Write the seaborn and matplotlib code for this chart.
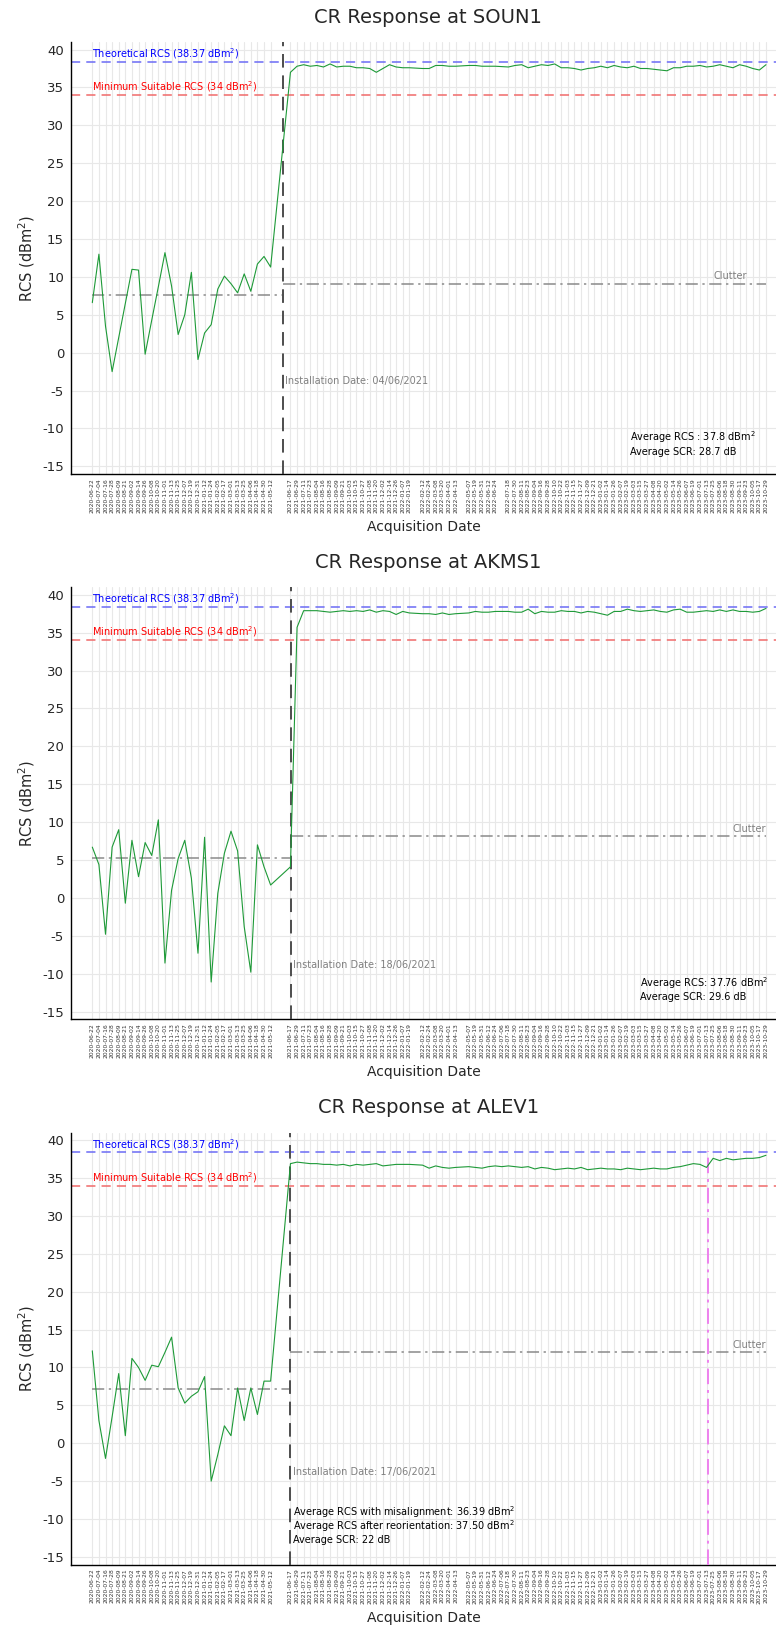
import matplotlib
matplotlib.use("Agg")
import matplotlib.pyplot as plt
import matplotlib.dates as mdates
import numpy as np
import pandas as pd
import seaborn as sns

# ---------------------------------------------------------------- data
pre_dates = [
    "2020-06-22", "2020-07-04", "2020-07-16", "2020-07-28", "2020-08-09", "2020-08-21",
    "2020-09-02", "2020-09-14", "2020-09-26", "2020-10-08", "2020-10-20", "2020-11-01",
    "2020-11-13", "2020-11-25", "2020-12-07", "2020-12-19", "2020-12-31", "2021-01-12",
    "2021-01-24", "2021-02-05", "2021-02-17", "2021-03-01", "2021-03-13", "2021-03-25",
    "2021-04-06", "2021-04-18", "2021-04-30", "2021-05-12",
]
post_dates_2021 = [
    "2021-06-17", "2021-06-29", "2021-07-11", "2021-07-23", "2021-08-04", "2021-08-16",
    "2021-08-28", "2021-09-09", "2021-09-21", "2021-10-03", "2021-10-15", "2021-10-27",
    "2021-11-08", "2021-11-20", "2021-12-02", "2021-12-14", "2021-12-26",
]
post_dates_2022 = [
    "2022-01-07", "2022-01-19", "2022-02-12", "2022-02-24", "2022-03-08", "2022-03-20",
    "2022-04-01", "2022-04-13", "2022-05-07", "2022-05-19", "2022-05-31", "2022-06-12",
    "2022-06-24", "2022-07-06", "2022-07-18", "2022-07-30", "2022-08-11", "2022-08-23",
    "2022-09-04", "2022-09-16", "2022-09-28", "2022-10-10", "2022-10-22", "2022-11-03",
    "2022-11-15", "2022-11-27", "2022-12-09", "2022-12-21",
]
post_dates_2023 = [
    "2023-01-02", "2023-01-14", "2023-01-26", "2023-02-07", "2023-02-19", "2023-03-03",
    "2023-03-15", "2023-03-27", "2023-04-08", "2023-04-20", "2023-05-02", "2023-05-14",
    "2023-05-26", "2023-06-07", "2023-06-19", "2023-07-01", "2023-07-13", "2023-07-25",
    "2023-08-06", "2023-08-18", "2023-08-30", "2023-09-11", "2023-09-23", "2023-10-05",
    "2023-10-17", "2023-10-29",
]
all_dates = pre_dates + post_dates_2021 + post_dates_2022 + post_dates_2023
soun1_missing = ["2022-07-06"]
soun1_dates = [d for d in all_dates if d not in soun1_missing]

soun1_rcs = [
    6.6, 13.0, 3.5, -2.5, 2.0, 6.5, 11.0, 10.9, -0.2, 4.3, 8.7, 13.2, 8.8, 2.4,
    5.0, 10.6, -0.9, 2.6, 3.7, 8.4, 10.1, 9.1, 7.9, 10.4, 8.1, 11.7, 12.7, 11.3,
    37.0, 37.8, 38.0, 37.8, 37.9, 37.7, 38.1, 37.7, 37.8, 37.8, 37.6, 37.6, 37.5, 37.0,
    37.5, 38.0, 37.7, 37.6, 37.6, 37.5, 37.5, 37.9, 37.9, 37.8, 37.8, 37.9, 37.9, 37.8,
    37.8, 37.8, 37.7, 37.9, 38.0, 37.6, 37.8, 38.0, 37.9, 38.1, 37.6, 37.6, 37.5, 37.3,
    37.5, 37.6, 37.8, 37.6, 37.9, 37.7, 37.6, 37.8, 37.5, 37.5, 37.4, 37.3, 37.2, 37.6,
    37.6, 37.8, 37.8, 37.9, 37.7, 37.8, 38.0, 37.8, 37.6, 38.0, 37.8, 37.5, 37.3, 38.0,
]
akms1_rcs = [
    6.7, 4.4, -4.8, 6.7, 9.0, -0.7, 7.6, 2.8, 7.3, 5.6, 10.3, -8.6, 1.0, 5.2,
    7.6, 2.6, -7.3, 8.0, -11.1, 0.6, 5.9, 8.8, 6.2, -3.8, -9.8, 7.0, 4.1, 1.7,
    4.1, 35.7, 37.9, 37.9, 37.9, 37.8, 37.7, 37.8, 37.9, 37.8, 37.9, 37.8, 38.0, 37.7,
    37.9, 37.8, 37.4, 37.8, 37.6, 37.5, 37.5, 37.4, 37.6, 37.4, 37.5, 37.6, 37.8, 37.7,
    37.7, 37.8, 37.8, 37.8, 37.7, 37.7, 38.1, 37.5, 37.8, 37.7, 37.7, 37.9, 37.8, 37.8,
    37.6, 37.8, 37.7, 37.5, 37.3, 37.8, 37.8, 38.1, 37.9, 37.8, 37.9, 38.0, 37.8, 37.7,
    38.0, 38.1, 37.7, 37.7, 37.8, 37.9, 37.8, 38.0, 37.8, 38.0, 37.8, 37.8, 37.7, 37.8,
    38.2,
]
alev1_rcs = [
    12.2, 3.0, -2.0, 3.5, 9.2, 1.0, 11.2, 10.0, 8.3, 10.3, 10.1, 12.0, 14.0, 7.3,
    5.3, 6.2, 6.8, 8.8, -5.0, -1.5, 2.3, 1.0, 7.3, 3.0, 7.3, 3.8, 8.2, 8.2,
    36.9, 37.1, 37.0, 36.9, 36.9, 36.8, 36.8, 36.7, 36.8, 36.6, 36.8, 36.7, 36.8, 36.9,
    36.6, 36.7, 36.8, 36.8, 36.8, 36.7, 36.3, 36.6, 36.4, 36.3, 36.4, 36.5, 36.4, 36.3,
    36.5, 36.6, 36.5, 36.6, 36.5, 36.4, 36.5, 36.2, 36.4, 36.3, 36.1, 36.2, 36.3, 36.2,
    36.4, 36.1, 36.2, 36.3, 36.2, 36.2, 36.1, 36.3, 36.2, 36.1, 36.2, 36.3, 36.2, 36.2,
    36.4, 36.5, 36.7, 36.9, 36.8, 36.4, 37.6, 37.3, 37.6, 37.4, 37.5, 37.6, 37.6, 37.7,
    38.0,
]

stations = ["SOUN1", "AKMS1", "ALEV1"]
station_dates = [soun1_dates, all_dates, all_dates]
station_rcs = [soun1_rcs, akms1_rcs, alev1_rcs]
install_dates = ["2021-06-04", "2021-06-18", "2021-06-17"]
install_labels = ["04/06/2021", "18/06/2021", "17/06/2021"]
clutter_pre = [7.6, 5.2, 7.2]
clutter_post = [9.1, 8.16, 12.0]
reorientation_date = "2023-07-15"

theoretical_rcs = 38.37
minimum_rcs = 34.0

summary_texts = [
    ["Average RCS : 37.8 dBm$^{2}$", "Average SCR: 28.7 dB"],
    ["Average RCS: 37.76 dBm$^{2}$", "Average SCR: 29.6 dB"],
    ["Average RCS with misalignment: 36.39 dBm$^{2}$",
     "Average RCS after reorientation: 37.50 dBm$^{2}$",
     "Average SCR: 22 dB"],
]

# ---------------------------------------------------------------- style
sns.set_theme(style="white")
plt.rcParams["font.family"] = ["DejaVu Sans"]
plt.rcParams["axes.unicode_minus"] = False

GREEN = "#1e9a38"
GRID = "#e8e8e8"

fig = plt.figure(figsize=(7.76, 16.27), dpi=100)
ax_bottoms = [0.7087, 0.3736, 0.0384]
ax_left, ax_width, ax_height = 0.0915, 0.9085, 0.2655

x_first = pd.Timestamp(all_dates[0])
x_last = pd.Timestamp(all_dates[-1])
xlim = (x_first - pd.Timedelta(days=38.7), x_last + pd.Timedelta(days=18.2))

clutter_label_x = ["2023-09-24", all_dates[-1], all_dates[-1]]
summary_x = ["2023-02-24", "2023-03-14", None]

for i, name in enumerate(stations):
    ax = fig.add_axes([ax_left, ax_bottoms[i], ax_width, ax_height])
    d = pd.to_datetime(station_dates[i])
    df = pd.DataFrame({"date": d, "rcs": station_rcs[i]})
    inst = pd.Timestamp(install_dates[i])

    # grid on every acquisition date
    ax.set_xticks(d)
    ax.set_yticks(np.arange(-15, 41, 5))
    ax.grid(True, color=GRID, lw=0.8, zorder=0)
    ax.set_axisbelow(True)

    ax.axhline(theoretical_rcs, color="#6b6bf5", ls=(0, (6, 4)), lw=1.1, zorder=2)
    ax.axhline(minimum_rcs, color="#f06a6a", ls=(0, (6, 4)), lw=1.1, zorder=2)
    ax.text(pd.Timestamp("2020-06-21"), theoretical_rcs + 0.1,
            "Theoretical RCS (38.37 dBm$^{2}$)", color="blue", fontsize=7, va="bottom")
    ax.text(pd.Timestamp("2020-06-21"), minimum_rcs + 0.1,
            "Minimum Suitable RCS (34 dBm$^{2}$)", color="red", fontsize=7, va="bottom")

    # clutter levels before and after installation
    ax.hlines(clutter_pre[i], d[0], inst, color="#8a8a8a", ls=(0, (8, 3, 1.5, 3)), lw=1.1, zorder=2)
    ax.hlines(clutter_post[i], inst, d[-1], color="#8a8a8a", ls=(0, (8, 3, 1.5, 3)), lw=1.1, zorder=2)
    ax.text(pd.Timestamp(clutter_label_x[i]), clutter_post[i] + 0.3, "Clutter",
            color="#808080", fontsize=7, ha="right", va="bottom")

    ax.axvline(inst, color="#4d4d4d", ls=(0, (7, 4)), lw=1.4, zorder=3)

    sns.lineplot(data=df, x="date", y="rcs", ax=ax, color=GREEN, lw=0.8, zorder=4)

    if i == 2:
        ax.vlines(pd.Timestamp(reorientation_date), -16, 38.6, color="#ee82ee",
                  ls=(0, (8, 3, 1.5, 3)), lw=1.4, zorder=3)

    inst_y = [-3.8, -8.9, -3.8][i]
    ax.text(inst + pd.Timedelta(days=4), inst_y, f"Installation Date: {install_labels[i]}",
            color="#808080", fontsize=7, va="center")

    sx = pd.Timestamp(summary_x[i]) if summary_x[i] else inst + pd.Timedelta(days=4)
    lines = summary_texts[i]
    y0 = -11.2 if len(lines) == 2 else -9.1
    for k, t in enumerate(lines):
        ax.text(sx, y0 - 1.85 * k, t, color="black", fontsize=7, va="center")

    ax.set_xlim(*xlim)
    ax.set_ylim(-16, 41)
    ax.xaxis.set_major_formatter(mdates.DateFormatter("%Y-%m-%d"))
    ax.tick_params(axis="x", labelrotation=90, labelsize=4.3, direction="in",
                   length=3.5, width=0.8, color="black", labelcolor="#333333", pad=3)
    ax.tick_params(axis="y", labelsize=9.5, direction="in", length=5, width=0.8,
                   color="black", pad=5)
    for s in ["top", "right"]:
        ax.spines[s].set_visible(False)
    for s in ["left", "bottom"]:
        ax.spines[s].set_color("black")
        ax.spines[s].set_linewidth(1.0)

    ax.set_title(f"CR Response at {name}", fontsize=14, pad=14, x=0.507)
    ax.set_xlabel("Acquisition Date", fontsize=10, labelpad=5)
    ax.set_ylabel("RCS (dBm$^{2}$)", fontsize=10.5, labelpad=4)

fig.savefig("out.png", dpi=100)
